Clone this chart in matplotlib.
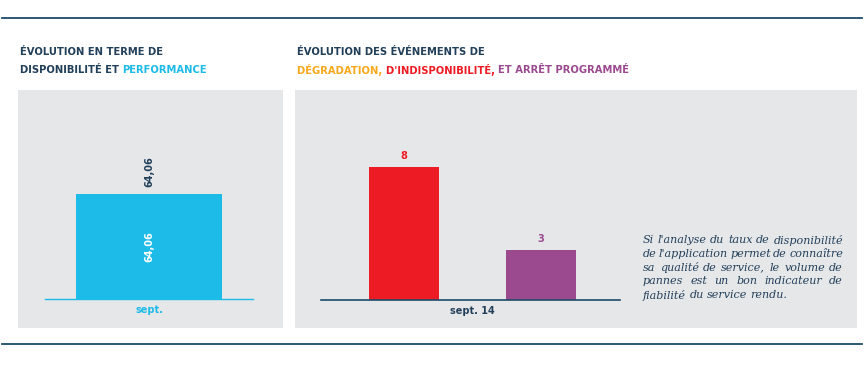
import matplotlib
matplotlib.use("Agg")
from matplotlib import pyplot as plt
from matplotlib.patches import Rectangle
from matplotlib.lines import Line2D

# data
left_cats = ["sept."]
perf_values = [64.06]
right_cats = ["sept. 14"]
incident_names = ["Indisponibilité", "Arrêt programmé"]
incident_values = [8, 3]

navy = "#1d4a68"
dark = "#23405a"
blue = "#1cbbe8"
orange = "#f7a81b"
red = "#ed1c24"
purple = "#9b4a8f"
panel = "#e6e7e9"

W, H = 867, 370
fig = plt.figure(figsize=(W / 100, H / 100), dpi=100)
fig.patch.set_facecolor("white")


def fx(px):
    return px / W


def fy(py):
    return 1 - py / H


# rules and panels
fig.add_artist(Line2D([fx(2), fx(862)], [fy(18), fy(18)], color=navy, lw=1.3))
fig.add_artist(Line2D([fx(2), fx(862)], [fy(344), fy(344)], color=navy, lw=1.3))
fig.add_artist(Rectangle((fx(18), fy(328)), fx(283 - 18), (328 - 90) / H,
                         facecolor=panel, edgecolor="none", zorder=0))
fig.add_artist(Rectangle((fx(295), fy(328)), fx(857 - 295), (328 - 90) / H,
                         facecolor=panel, edgecolor="none", zorder=0))

renderer = fig.canvas.get_renderer()


def rich(x, y, parts, size=7.2):
    xx = fx(x)
    for txt, col in parts:
        t = fig.text(xx, fy(y), txt, color=col, fontsize=size, fontweight="bold",
                     va="center", ha="left")
        bb = t.get_window_extent(renderer)
        xx += bb.width / W


rich(20, 52, [("ÉVOLUTION EN TERME DE", dark)])
rich(20, 70, [("DISPONIBILITÉ ET ", dark), ("PERFORMANCE", blue)])
rich(297, 52, [("ÉVOLUTION DES ÉVÉNEMENTS DE", dark)])
rich(297, 70, [("DÉGRADATION, ", orange), ("D'INDISPONIBILITÉ, ", red),
               ("ET ARRÊT PROGRAMMÉ", purple)])

# left chart
axl = fig.add_axes([fx(45), fy(299), fx(253 - 45), (299 - 110) / H])
axl.patch.set_alpha(0)
axl.bar(range(len(left_cats)), perf_values, width=0.70, color=blue)
axl.set_xlim(-0.5, 0.5)
axl.set_ylim(0, 115.3)
for i, v in enumerate(perf_values):
    lab = f"{v:.2f}".replace(".", ",")
    axl.annotate(lab, (i, v), xytext=(0, 16), textcoords="offset points",
                 rotation=90, ha="center", va="center", fontsize=7,
                 fontweight="bold", color=dark)
    axl.text(i, v / 2, lab, rotation=90, ha="center", va="center", fontsize=7,
             fontweight="bold", color="white")
axl.set_xticks(range(len(left_cats)))
axl.set_xticklabels(left_cats, color=blue, fontsize=7, fontweight="bold")
axl.tick_params(axis="x", length=0, pad=4)
axl.set_yticks([])
for s in ["top", "left", "right"]:
    axl.spines[s].set_visible(False)
axl.spines["bottom"].set_color(blue)
axl.spines["bottom"].set_linewidth(1.0)

# right chart
axr = fig.add_axes([fx(321), fy(300), fx(620 - 321), (300 - 110) / H])
axr.patch.set_alpha(0)
cols = [red, purple]
offs = [-0.5, 0.5]
for v, c, o in zip(incident_values, cols, offs):
    axr.bar(0 + o, v, width=0.51, color=c)
    axr.annotate(str(v), (o, v), xytext=(0, 8), textcoords="offset points",
                 ha="center", va="center", fontsize=7, fontweight="bold", color=c)
axr.set_xlim(-1.106, 1.077)
axr.set_ylim(0, 11.45)
axr.set_xticks(range(len(right_cats)))
axr.set_xticklabels(right_cats, color=dark, fontsize=7, fontweight="bold")
axr.tick_params(axis="x", length=0, pad=4)
axr.set_yticks([])
for s in ["top", "left", "right"]:
    axr.spines[s].set_visible(False)
axr.spines["bottom"].set_color(navy)
axr.spines["bottom"].set_linewidth(1.2)

# justified paragraph
lines = ["Si l'analyse du taux de disponibilité",
         "de l'application permet de connaître",
         "sa qualité de service, le volume de",
         "pannes est un bon indicateur de",
         "fiabilité du service rendu."]
x0, x1 = 643, 843
y0, dy = 240, 13.8
fsize = 8.0
for k, ln in enumerate(lines):
    words = ln.split(" ")
    y = fy(y0 + k * dy)
    arts = [fig.text(0, y, w, fontsize=fsize, style="italic", family="DejaVu Serif",
                     color=dark, va="center", ha="left") for w in words]
    widths = [a.get_window_extent(renderer).width for a in arts]
    if k < len(lines) - 1:
        gap = (x1 - x0 - sum(widths)) / (len(words) - 1)
    else:
        gap = fsize * 100 / 72 * 0.3
    xx = x0
    for a, w in zip(arts, widths):
        a.set_x(fx(xx))
        xx += w + gap

fig.savefig("out.png", dpi=100, facecolor="white")
